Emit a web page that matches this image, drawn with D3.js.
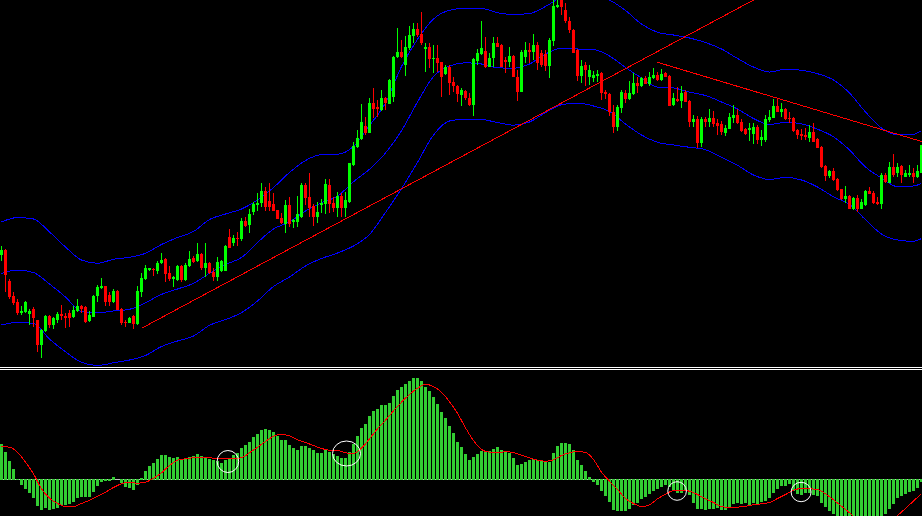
<!DOCTYPE html>
<html>
<head>
<meta charset="utf-8">
<script src="https://cdn.jsdelivr.net/npm/d3@7"></script>
<style>
  html, body { margin: 0; padding: 0; background: #000; }
  svg { display: block; }
</style>
</head>
<body>
<svg id="chart" width="922" height="516"></svg>
<script>
// price in points, one entry per bar (bar 0 = left edge)
var open = [
  115, 120, 89, 74, 68, 57, 58, 56, 61, 50, 25, 39, 54, 45, 50, 56, 54, 57, 53, 59,
  64, 63, 49, 53, 74, 82, 84, 75, 68, 79, 61, 48, 47, 54, 46, 78, 91, 100, 101, 99,
  107, 111, 97, 91, 90, 104, 90, 104, 112, 109, 116, 102, 107, 98, 93, 99, 99, 133, 127, 132,
  131, 149, 145, 158, 165, 167, 179, 169, 166, 160, 152, 146, 165, 148, 148, 153, 185, 173, 164, 153,
  165, 166, 185, 167, 162, 174, 162, 168, 205, 223, 231, 244, 237, 267, 263, 260, 272, 266, 273, 313,
  318, 305, 322, 334, 341, 336, 321, 323, 311, 312, 308, 296, 303, 288, 284, 275, 279, 272, 265, 309,
  316, 319, 303, 312, 327, 325, 310, 308, 314, 293, 278, 313, 320, 318, 325, 317, 316, 304, 329, 363,
  373, 360, 349, 340, 320, 294, 305, 293, 292, 294, 297, 278, 276, 258, 243, 262, 277, 271, 276, 287,
  284, 292, 286, 292, 295, 290, 297, 294, 265, 271, 269, 278, 269, 248, 251, 227, 251, 248, 252, 247,
  246, 237, 241, 252, 255, 248, 241, 240, 236, 243, 230, 230, 250, 252, 264, 258, 261, 252, 252, 240,
  236, 235, 232, 238, 231, 223, 204, 194, 199, 191, 181, 171, 174, 161, 172, 161, 165, 179, 177, 168,
  166, 195, 187, 203, 197, 204, 193, 195, 197, 193, 197
];
var high = [
  124, 121, 91, 78, 71, 64, 69, 61, 63, 50, 41, 55, 55, 53, 58, 65, 57, 60, 64, 71,
  65, 64, 59, 75, 85, 92, 84, 78, 81, 80, 62, 50, 53, 55, 84, 97, 105, 102, 102, 109,
  117, 112, 104, 94, 105, 105, 107, 119, 114, 127, 117, 127, 108, 102, 113, 110, 125, 141, 135, 138,
  152, 153, 161, 168, 177, 187, 183, 187, 177, 160, 157, 170, 173, 151, 174, 187, 187, 197, 166, 168,
  171, 191, 191, 173, 178, 177, 178, 207, 228, 240, 266, 253, 272, 282, 270, 280, 273, 291, 314, 342,
  330, 334, 344, 347, 347, 358, 327, 327, 325, 325, 308, 305, 305, 293, 285, 282, 280, 277, 312, 321,
  349, 333, 317, 333, 333, 326, 313, 323, 315, 300, 320, 328, 327, 336, 328, 320, 320, 332, 370, 371,
  378, 367, 353, 341, 321, 310, 308, 305, 299, 300, 298, 280, 277, 265, 265, 280, 280, 289, 297, 293,
  293, 294, 298, 302, 298, 301, 298, 295, 277, 283, 284, 280, 270, 255, 254, 253, 253, 261, 259, 251,
  249, 245, 257, 265, 261, 251, 242, 247, 247, 245, 240, 255, 260, 271, 272, 267, 262, 258, 253, 241,
  241, 242, 245, 247, 232, 224, 205, 200, 202, 192, 181, 184, 175, 173, 175, 171, 180, 183, 179, 173,
  197, 197, 208, 216, 207, 205, 200, 205, 202, 205, 225
];
var low = [
  109, 78, 71, 65, 55, 55, 57, 45, 43, 18, 12, 38, 42, 41, 47, 50, 42, 43, 52, 58,
  57, 47, 48, 53, 68, 81, 64, 64, 67, 60, 45, 43, 47, 41, 45, 73, 90, 99, 94, 96,
  106, 88, 89, 83, 89, 88, 89, 103, 107, 108, 100, 93, 96, 89, 89, 98, 99, 122, 124, 124,
  129, 143, 137, 155, 159, 163, 159, 159, 159, 151, 146, 137, 143, 142, 143, 152, 165, 153, 144, 147,
  157, 156, 157, 158, 153, 153, 153, 167, 204, 222, 230, 235, 237, 252, 253, 259, 260, 266, 268, 312,
  312, 294, 320, 327, 333, 325, 298, 302, 297, 298, 273, 295, 275, 278, 268, 264, 270, 264, 254, 305,
  315, 302, 303, 303, 323, 303, 297, 303, 293, 269, 278, 307, 307, 310, 300, 303, 299, 292, 324, 362,
  355, 347, 337, 317, 289, 287, 284, 285, 288, 288, 270, 271, 254, 237, 239, 257, 267, 270, 275, 277,
  283, 286, 284, 291, 289, 289, 293, 264, 264, 268, 262, 268, 243, 243, 222, 223, 243, 243, 243, 235,
  235, 234, 241, 247, 246, 238, 235, 229, 226, 226, 224, 228, 248, 252, 258, 253, 250, 247, 238, 231,
  230, 230, 228, 228, 222, 202, 189, 192, 189, 179, 170, 167, 161, 160, 158, 161, 164, 176, 166, 165,
  161, 187, 187, 193, 193, 187, 193, 193, 187, 192, 197
];
var close = [
  120, 95, 73, 67, 57, 59, 68, 59, 52, 25, 40, 54, 45, 52, 56, 54, 52, 52, 60, 64,
  61, 48, 55, 74, 83, 84, 68, 68, 79, 60, 47, 47, 52, 46, 79, 92, 102, 102, 100, 107,
  110, 96, 91, 93, 104, 90, 105, 111, 108, 116, 102, 107, 97, 93, 108, 109, 124, 122, 132, 131,
  149, 144, 156, 166, 167, 179, 163, 163, 159, 151, 147, 165, 146, 150, 156, 185, 172, 162, 153, 158,
  167, 186, 166, 162, 174, 162, 170, 207, 224, 232, 248, 237, 267, 261, 261, 272, 267, 290, 313, 318,
  313, 323, 335, 341, 335, 327, 323, 311, 312, 307, 293, 303, 287, 284, 276, 280, 272, 265, 311, 317,
  322, 303, 312, 327, 323, 303, 308, 314, 293, 278, 318, 320, 318, 325, 307, 305, 304, 330, 364, 365,
  363, 349, 340, 317, 294, 304, 300, 300, 295, 296, 277, 276, 258, 243, 263, 278, 271, 277, 287, 284,
  292, 286, 293, 295, 290, 296, 293, 264, 272, 269, 277, 268, 248, 251, 227, 251, 248, 252, 246, 244,
  238, 242, 253, 255, 247, 239, 236, 242, 243, 230, 233, 251, 253, 264, 258, 261, 251, 251, 239, 235,
  234, 233, 238, 228, 222, 203, 194, 199, 190, 180, 171, 174, 161, 172, 161, 168, 179, 176, 167, 166,
  195, 188, 203, 195, 203, 195, 197, 197, 193, 199, 225
];

// Bollinger bands read every 4 bars (plus the last bar)
var bandBars = d3.range(0, 229, 4).concat([230]);
var bandUpper = [
  148, 152.5, 151, 138, 123, 110, 106.7, 110.7, 112.7, 116.7, 125.5, 132.5, 138.5, 150.5, 156,
  161, 170, 182.5, 197.5, 209.5, 215.3, 215.7, 223.5, 244.5, 267, 303.5, 330.7, 351, 359.7, 361.7,
  361.5, 357.3, 355.5, 356.5, 363.5, 373, 378, 375, 370, 359.5, 346, 337.7, 335, 332, 327.5,
  321, 311.5, 303, 298, 300.7, 299.8, 296.3, 290, 277, 258, 242, 235.3, 235.7, 239.5
];
var bandMiddle = [
  96.5, 100, 97.5, 86, 73, 58.5, 57.2, 59, 60.7, 67.3, 75.6, 81, 86.7, 96.7, 105.4,
  112.5, 127.5, 141, 148, 159, 167.3, 173.8, 188.3, 200.7, 217, 239.2, 268, 293.5, 304, 307.2,
  306, 302.2, 301.8, 306, 316, 321.8, 321, 320.5, 314, 302.5, 292, 282.8, 282, 277.8, 274.5,
  268, 261, 251.5, 245.5, 247.7, 246.2, 240.8, 233.2, 220, 203, 192, 183.3, 184, 186.5
];
var bandLower = [
  45, 47.7, 46.5, 31, 18.3, 7.7, 4.5, 7.2, 10, 14.5, 23.5, 29, 34, 44.7, 50.4,
  57.3, 69, 83.5, 93, 104, 111.5, 117, 124, 135.5, 157.5, 181.3, 207.7, 235, 249, 251,
  250.5, 247.5, 244.8, 248, 257.5, 265.3, 267, 264, 258.5, 246, 235, 227.7, 225, 222.7, 220.3,
  212.7, 204.7, 195, 190.5, 192.6, 190, 183, 173.2, 165.5, 150.3, 136, 130, 128.7, 131.5
];

// hand drawn trend lines: [bar, price] end points
var trendLines = [
  [[35, 41.7], [188, 370]],
  [[164, 307.7], [230.2, 228.3]]
];

// MACD histogram, one per bar
var macd = [
  35.3, 27.3, 18.3, 10.3, 1, -5.3, -9.7, -13.7, -18.3, -26.3,
  -30, -28.7, -30, -29.3, -28.3, -25.3, -25.3, -24.3, -22.7, -18.7,
  -17, -17.7, -17, -12, -6.7, -2.7, -1.7, -1.3, 2.3, 0,
  -3.7, -7.7, -8, -10.3, -5.3, 1.3, 8.7, 13.3, 16.3, 20.3,
  24.3, 24.3, 22.3, 21.3, 22.3, 19.7, 20.3, 23, 24, 25.3,
  24, 22.7, 20.3, 19.7, 18.7, 16.3, 19.7, 20.3, 24.3, 26.3,
  31.3, 34.3, 37.3, 42.3, 45.3, 49.3, 50.3, 49.7, 47.3, 43.3,
  39.3, 39.3, 34.3, 31.3, 29.3, 33.3, 33.7, 32, 29.3, 26.3,
  26.3, 29.3, 27.3, 25.3, 23.3, 22, 22, 28, 35.3, 43.3,
  51.3, 55.3, 63.3, 68.3, 70.7, 74.3, 74.3, 76.3, 83.3, 89.3,
  92.7, 95.3, 98.3, 101.3, 101.3, 98.3, 92.7, 88.3, 82.3, 75.3,
  67.3, 61.7, 53.3, 46.7, 38, 32.7, 25.3, 19.3, 22.3, 25.3,
  28.3, 27.3, 28.3, 30.3, 32.3, 29.3, 27.7, 27, 21.3, 14.3,
  15.3, 17.3, 19.3, 20.3, 19.3, 18.3, 17.3, 17.3, 26.3, 33.3,
  36.3, 36.3, 35.3, 29.3, 19.3, 14.3, 8.3, 2.3, -2.7, -5,
  -11, -16, -22, -30.3, -31.3, -31.3, -31.3, -29.3, -25.3, -23.3,
  -19.3, -17.3, -14.3, -11.3, -9.3, -7.3, -5.7, -7.3, -11.3, -13.3,
  -13.3, -11.3, -15.3, -23.3, -29.3, -29.3, -30.3, -29.3, -29.3, -28.3,
  -30.3, -30.3, -28.3, -24.3, -23.3, -24.3, -23.3, -25.3, -23.3, -24.3,
  -22.3, -21.3, -18.3, -13.3, -9.3, -6.3, -6.3, -4.3, -11.3, -14.3,
  -15.3, -13.3, -13.3, -15.3, -16.3, -23.3, -27.3, -31.3, -34.3, -42,
  -50, -57, -63, -68, -70, -70, -67, -61, -54, -46,
  -39, -34.3, -29.3, -24.3, -18.3, -16.3, -14.3, -12.3, -11.3, -8.3,
  -2.7
];

// signal line, read every 2 bars
var signalBars = d3.range(0, 231, 2);
var signal = [
  33, 32.3, 27.3, 17.3, 5.7, -9.3, -18.7, -24, -27, -27,
  -24, -20.7, -16.7, -12.7, -8, -4.3, -2.7, -3.7, -2.7, 1.3,
  6.7, 14, 19.3, 20.7, 21.7, 22, 21.7, 21, 20.7, 20.7,
  21.7, 26.7, 32.3, 38, 43.3, 45, 43.7, 39.7, 37, 34,
  31, 29.3, 29, 26.7, 26, 31.3, 40.7, 50.7, 59.3, 68.7,
  77.3, 85, 91.3, 95, 93, 87.3, 77.7, 66.3, 51.7, 39,
  30, 27.3, 27, 27.7, 27, 24.3, 21.7, 19.3, 18.3, 19.7,
  24, 26.7, 28, 27, 20, 7.3, -1.7, -10, -19, -24,
  -27, -25.3, -19.3, -14.7, -11, -10.7, -11.7, -15, -19.3, -23,
  -27, -28.3, -27.7, -26.7, -25.3, -24.3, -23, -19, -15, -10.7,
  -9, -9.3, -10, -14.3, -20.3, -26.7, -33.3, -40.7, -48, -56,
  -50, -43, -36, -29, -21.5, -14.3
];

// circled crossings on the MACD window: [bar, macd value]
var crossMarks = [[56.6, 18], [86.25, 26], [168.9, -11.5], [199.9, -12.5]];

(function drawChart () {
  'use strict';

  var width = 922;
  var height = 516;
  var priceBottom = 367;
  var macdTop = 371;

  var svg = d3.select('#chart');

  var x = d3.scaleLinear().domain([0, 230]).range([1.5, 921.5]);
  var yPrice = d3.scaleLinear().domain([0, 370]).range([370, 0]);
  var yMacd = d3.scaleLinear().domain([0, 100]).range([479.5, 379.5]);

  svg.append('rect')
    .attr('width', width)
    .attr('height', height)
    .attr('fill', '#000');

  var defs = svg.append('defs');
  defs.append('clipPath').attr('id', 'clip-price')
    .append('rect').attr('width', width).attr('height', priceBottom);
  defs.append('clipPath').attr('id', 'clip-macd')
    .append('rect').attr('y', macdTop).attr('width', width).attr('height', height - macdTop);

  // price window
  var price = svg.append('g').attr('clip-path', 'url(#clip-price)');

  var bandLine = d3.line()
    .x(function (d) { return x(d[0]); })
    .y(function (d) { return yPrice(d[1]); })
    .curve(d3.curveMonotoneX);

  [bandUpper, bandMiddle, bandLower].forEach(function (band) {
    price.append('path')
      .datum(d3.zip(bandBars, band))
      .attr('d', bandLine)
      .attr('fill', 'none')
      .attr('stroke', '#0000ff')
      .attr('stroke-width', 1)
      .attr('shape-rendering', 'crispEdges');
  });

  price.selectAll('.trend')
    .data(trendLines)
    .enter()
    .append('line')
    .attr('class', 'trend')
    .attr('x1', function (d) { return x(d[0][0]); })
    .attr('y1', function (d) { return yPrice(d[0][1]); })
    .attr('x2', function (d) { return x(d[1][0]); })
    .attr('y2', function (d) { return yPrice(d[1][1]); })
    .attr('stroke', '#ff0000')
    .attr('stroke-width', 1)
    .attr('shape-rendering', 'crispEdges');

  var bars = d3.range(open.length).map(function (i) {
    return { i: i, o: open[i], h: high[i], l: low[i], c: close[i] };
  });

  var candle = price.selectAll('.candle')
    .data(bars)
    .enter()
    .append('g')
    .attr('class', 'candle')
    .attr('shape-rendering', 'crispEdges')
    .attr('fill', function (d) { return d.c >= d.o ? '#00ff00' : '#ff0000'; })
    .attr('stroke', function (d) { return d.c >= d.o ? '#00ff00' : '#ff0000'; });

  candle.append('line')
    .attr('x1', function (d) { return x(d.i); })
    .attr('x2', function (d) { return x(d.i); })
    .attr('y1', function (d) { return yPrice(d.h); })
    .attr('y2', function (d) { return yPrice(d.l); })
    .attr('stroke-width', 1);

  candle.append('rect')
    .attr('stroke', 'none')
    .attr('x', function (d) { return x(d.i) - 1.5; })
    .attr('width', 3)
    .attr('y', function (d) { return yPrice(Math.max(d.o, d.c)); })
    .attr('height', function (d) {
      return Math.max(1, yPrice(Math.min(d.o, d.c)) - yPrice(Math.max(d.o, d.c)));
    });

  // window separator
  svg.selectAll('.sep')
    .data([367.5, 369.5])
    .enter()
    .append('line')
    .attr('class', 'sep')
    .attr('x1', 0)
    .attr('x2', width)
    .attr('y1', function (d) { return d; })
    .attr('y2', function (d) { return d; })
    .attr('stroke', '#ffffff')
    .attr('stroke-width', 1)
    .attr('shape-rendering', 'crispEdges');

  // MACD window
  var osc = svg.append('g').attr('clip-path', 'url(#clip-macd)');

  osc.append('line')
    .attr('x1', 0)
    .attr('x2', width)
    .attr('y1', yMacd(0))
    .attr('y2', yMacd(0))
    .attr('stroke', '#c0c0c0')
    .attr('stroke-width', 1)
    .attr('shape-rendering', 'crispEdges');

  osc.selectAll('.hist')
    .data(macd)
    .enter()
    .append('rect')
    .attr('class', 'hist')
    .attr('shape-rendering', 'crispEdges')
    .attr('fill', '#32cd32')
    .attr('x', function (d, i) { return x(i) - 1.5; })
    .attr('width', 3)
    .attr('y', function (d) { return d >= 0 ? yMacd(d) : yMacd(0) - 0.5; })
    .attr('height', function (d) { return Math.abs(yMacd(d) - yMacd(0)) + 0.5; });

  var signalLine = d3.line()
    .x(function (d) { return x(d[0]); })
    .y(function (d) { return yMacd(d[1]); })
    .curve(d3.curveMonotoneX);

  osc.append('path')
    .datum(d3.zip(signalBars, signal))
    .attr('d', signalLine)
    .attr('fill', 'none')
    .attr('stroke', '#ff0000')
    .attr('stroke-width', 1)
    .attr('shape-rendering', 'crispEdges');

  var markSize = [[10.8, 11], [14, 12.5], [9.3, 9.3], [10, 9.7]];

  osc.selectAll('.mark')
    .data(crossMarks)
    .enter()
    .append('ellipse')
    .attr('class', 'mark')
    .attr('cx', function (d) { return x(d[0]); })
    .attr('cy', function (d) { return yMacd(d[1]); })
    .attr('rx', function (d, i) { return markSize[i][0]; })
    .attr('ry', function (d, i) { return markSize[i][1]; })
    .attr('fill', 'none')
    .attr('stroke', '#ffffff')
    .attr('stroke-width', 1);
})();
</script>
</body>
</html>
